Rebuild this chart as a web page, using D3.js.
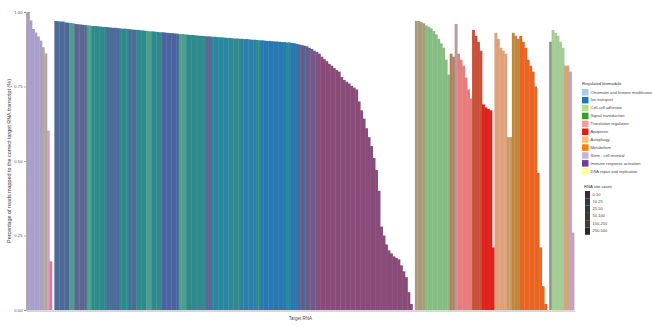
<!DOCTYPE html>
<html>
<head>
<meta charset="utf-8">
<script src="https://cdn.jsdelivr.net/npm/d3@7"></script>
<style>
  body { margin: 0; background: #fff; }
  text { font-family: "Liberation Sans", Arial, sans-serif; }
</style>
</head>
<body>
<svg id="chart" width="652" height="327"></svg>
<script>
// Share of reads assigned to the correct target, one bar per target RNA (%)
const leftValues = [100, 97.2, 94.3, 93.1, 91.8, 90.4, 88.2, 86.1, 60.2, 16.3, 0];
const mainValues = [
  97.0, 96.9, 96.8, 96.8, 96.5, 96.4, 96.3, 96.2, 96.0, 95.9,
  95.8, 95.7, 95.6, 95.5, 95.4, 95.3, 95.3, 95.2, 95.1, 95.0,
  95.0, 94.9, 94.8, 94.7, 94.7, 94.6, 94.5, 94.4, 94.4, 94.3,
  94.2, 94.1, 94.0, 94.0, 93.9, 93.8, 93.7, 93.6, 93.5, 93.5,
  93.4, 93.3, 93.2, 93.2, 93.1, 93.0, 92.9, 92.9, 92.8, 92.7,
  92.6, 92.6, 92.5, 92.4, 92.3, 92.3, 92.2, 92.1, 92.0, 92.0,
  91.9, 91.8, 91.8, 91.7, 91.7, 91.6, 91.5, 91.5, 91.4, 91.3,
  91.3, 91.2, 91.1, 91.1, 91.0, 91.0, 90.9, 90.9, 90.8, 90.7,
  90.7, 90.6, 90.5, 90.5, 90.4, 90.3, 90.3, 90.2, 90.1, 90.1,
  90.0, 89.9, 89.9, 89.8, 89.8, 89.6, 89.5, 89.3, 89.1, 88.9,
  88.7, 88.5
];
const purpleValues = [
  88.0, 87.6, 87.0, 86.6, 86.0, 85.0, 84.2, 83.5, 82.6, 82.0,
  81.2, 80.5, 80.0, 78.2, 77.2, 76.6, 76.0, 75.2, 74.6, 74.0,
  70.0, 67.0, 64.2, 61.0, 58.0, 55.0, 51.0, 47.0, 40.0, 28.0,
  25.0, 22.0, 20.0, 19.0, 18.0, 17.5, 17.0, 15.0, 13.0, 11.0,
  6.0, 2.0, 0
];
const rightValues = [
  97.0, 97.0, 96.6, 96.2,
  95.5, 95.0, 94.5, 93.6, 92.5, 91.0, 89.5, 88.0, 84.0, 79.0,
  86.0, 85.0,
  96.0,
  86.0, 84.0, 82.0, 78.0, 74.0, 71.0,
  94.0, 92.0, 90.0, 87.0,
  69.0, 68.0, 67.5, 67.0, 21.0,
  93.0, 91.0, 88.0, 87.0, 86.0,
  58.0, 58.0,
  93.0, 92.0, 91.0,
  92.0, 90.0, 88.0, 84.0, 82.0, 80.0, 75.0, 46.0, 21.0, 8.0, 2.0,
  0,
  90.0,
  94.0, 93.0, 92.0, 90.0, 88.0,
  82.0, 82.0,
  80.0, 26.0
];
const coverage = leftValues.concat(mainValues, purpleValues, rightValues);

// Runs of consecutive bars sharing one fill: [tone, bar count]
const toneRuns = [
  ["lavender", 6], ["taupe", 2], ["pinkLight", 1], ["pink", 1], ["none", 1],
  ["slateBlue", 6], ["seafoam", 2], ["slatePurple", 5], ["seafoam", 2], ["teal", 6],
  ["slateBlue", 5], ["teal", 4], ["slateBlue", 3], ["teal", 4], ["seafoam", 2],
  ["teal", 4], ["indigo", 7], ["seafoam", 3], ["teal", 8], ["slatePurple", 2],
  ["tealBlue", 8], ["teal", 4], ["cyanBlue", 6], ["teal", 2], ["blue", 10],
  ["tealBlue", 2], ["blue", 3], ["slateDusk", 4],
  ["plumSlate", 4], ["plum", 39],
  ["khaki", 4], ["green", 10], ["brown", 2], ["mauve", 1], ["salmon", 6],
  ["rust", 4], ["red", 5], ["apricot", 5], ["sand", 2], ["ochre", 3],
  ["orange", 11], ["none", 1], ["sage", 1], ["mint", 5], ["tan", 2], ["lilac", 2]
];
const toneColors = {
  none: "none", lavender: "#aa9fcb", taupe: "#b1a7a9", pinkLight: "#dc9db6", pink: "#d9799b",
  slateBlue: "#4e6a99", seafoam: "#4b9f8b", slatePurple: "#5b6791", teal: "#2f8a8d",
  indigo: "#4a64a0", tealBlue: "#2a87a0", cyanBlue: "#2a80a9", blue: "#2878b1",
  slateDusk: "#5a6291", plumSlate: "#735a8a", plum: "#894b79",
  khaki: "#a99b7d", green: "#86bd82", brown: "#b3825c", mauve: "#b999a2", salmon: "#e97c7c",
  rust: "#c9513a", red: "#e0211d", apricot: "#dea17a", sand: "#c99b6a", ochre: "#c1873b",
  orange: "#e96521", sage: "#8b9a81", mint: "#a5cc95", tan: "#d1a57d", lilac: "#c5a1c1"
};

const moduleNames = [
  "Chromatin and histone modification", "Ion transport", "Cell-cell adhesion",
  "Signal transduction", "Translation regulation", "Apoptosis", "Autophagy",
  "Metabolism", "Stem - cell renewal", "Immune response activation",
  "DNA repair and replication"
];
const moduleColors = ["#a6cee3", "#1f78b4", "#b2df8a", "#33a02c", "#fb9a99", "#e31a1c",
  "#fdbf6f", "#ff7f00", "#cab2d6", "#6a3d9a", "#ffff99"];
const siteBins = ["0-10", "10-25", "25-50", "50-100", "100-250", "250-500"];
const siteColors = ["#3b2a3c", "#2b3b3d", "#313a38", "#3b3a31", "#433a2a", "#2c2b22"];

const yTicks = [0, 0.25, 0.5, 0.75, 1];

const svg = d3.select("#chart");
const plot = { left: 27, right: 574, top: 12, bottom: 310 };

const x = d3.scaleBand().domain(d3.range(coverage.length)).range([plot.left, plot.right]).padding(0);
const y = d3.scaleLinear().domain([0, 1]).range([plot.bottom, plot.top]);

const fills = toneRuns.flatMap(([tone, n]) => d3.range(n).map(() => toneColors[tone]));

svg.append("g").selectAll("rect")
  .data(coverage.map((v, i) => ({ v, i, fill: fills[i] })))
  .join("rect")
  .attr("x", d => x(d.i))
  .attr("width", x.bandwidth() + 0.4)
  .attr("y", d => y(d.v / 100))
  .attr("height", d => y(0) - y(d.v / 100))
  .attr("fill", d => d.fill);

// y axis
const yAxis = svg.append("g")
  .attr("transform", `translate(${plot.left - 1},0)`)
  .call(d3.axisLeft(y).tickValues(yTicks).tickFormat(d3.format(".2f")).tickSize(2).tickPadding(1.5));
yAxis.select(".domain").attr("stroke", "#777").attr("stroke-width", 0.6);
yAxis.selectAll(".tick line").attr("stroke", "#777").attr("stroke-width", 0.6);
yAxis.selectAll("text").attr("font-size", 4.2).attr("fill", "#555");

// x axis with a tick under every bar
const xAxis = svg.append("g")
  .attr("transform", `translate(0,${plot.bottom + 0.5})`)
  .call(d3.axisBottom(x).tickSize(1.2).tickFormat(""));
xAxis.select(".domain").attr("stroke", "#888").attr("stroke-width", 0.6);
xAxis.selectAll(".tick line").attr("stroke", "#aaa").attr("stroke-width", 0.3);

svg.append("text")
  .attr("x", (plot.left + plot.right) / 2).attr("y", 320)
  .attr("text-anchor", "middle").attr("font-size", 4.5).attr("fill", "#444")
  .text("Target RNA");

svg.append("text")
  .attr("transform", `translate(11,${(plot.top + plot.bottom) / 2}) rotate(-90)`)
  .attr("text-anchor", "middle").attr("font-size", 5.4).attr("fill", "#444")
  .text("Percentage of reads mapped to the correct target RNA transcript (%)");

// module legend
const leg1 = svg.append("g").attr("transform", "translate(582,85)");
leg1.append("text").attr("x", 0).attr("y", 0).attr("font-size", 4.2).attr("fill", "#333")
  .text("Regulated biomodule");
const items1 = leg1.selectAll("g.item").data(moduleNames).join("g")
  .attr("class", "item")
  .attr("transform", (d, i) => `translate(0,${4 + i * 7.9})`);
items1.append("rect").attr("width", 6.5).attr("height", 6.5)
  .attr("fill", (d, i) => moduleColors[i]);
items1.append("text").attr("x", 8.5).attr("y", 4.6).attr("font-size", 4)
  .attr("fill", "#444").text(d => d);

// site count legend
const leg2 = svg.append("g").attr("transform", "translate(585,188)");
leg2.append("text").attr("x", -1).attr("y", 0).attr("font-size", 4.2).attr("fill", "#333")
  .text("RNA site count");
const items2 = leg2.selectAll("g.item").data(siteBins).join("g")
  .attr("class", "item")
  .attr("transform", (d, i) => `translate(0,${3 + i * 7.3})`);
items2.append("rect").attr("width", 5).attr("height", 7.3)
  .attr("fill", (d, i) => siteColors[i]);
items2.append("text").attr("x", 7.5).attr("y", 4.6).attr("font-size", 4)
  .attr("fill", "#444").text(d => d);
</script>
</body>
</html>
